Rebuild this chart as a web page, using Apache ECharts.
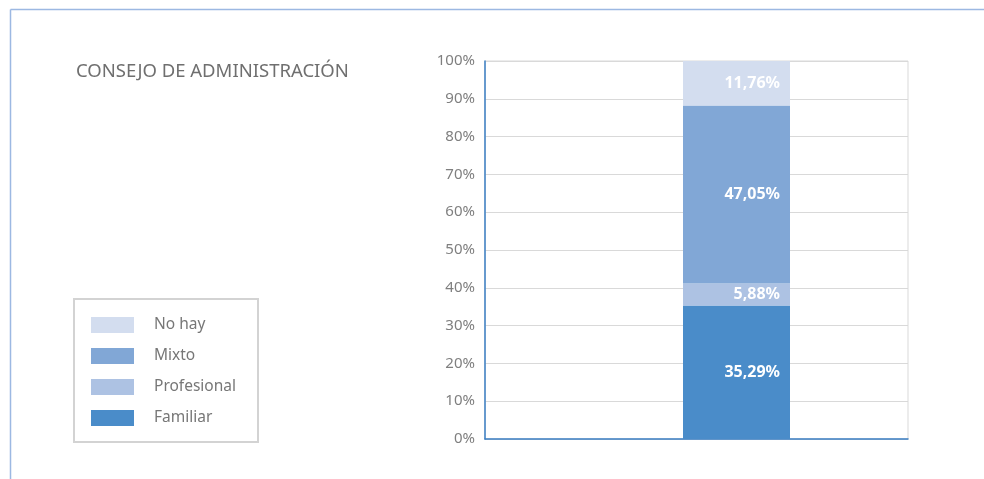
<!DOCTYPE html>
<html>
<head>
<meta charset="utf-8">
<script src="https://cdn.jsdelivr.net/npm/echarts@6/dist/echarts.min.js"></script>
<style>
  html, body { margin: 0; padding: 0; background: #fff; }
  #chart { width: 984px; height: 479px; }
</style>
</head>
<body>
<div id="chart"></div>
<script>
// Composición del consejo de administración (porcentaje de empresas)
const categories = ['Consejo'];
const familiar = [35.29];
const profesional = [5.88];
const mixto = [47.05];
const noHay = [11.76];
const legendOrder = ['No hay', 'Mixto', 'Profesional', 'Familiar'];
const yTicks = { min: 0, max: 100, interval: 10 };

const FONT = '"Noto Sans", "Open Sans", sans-serif';
const fmt = v => v.toFixed(2).replace('.', ',') + '%';

function stackSeries(name, data, color) {
  return {
    name, type: 'bar', stack: 'total', data,
    xAxisIndex: 1, yAxisIndex: 1,
    barWidth: 107,
    itemStyle: { color },
    label: {
      show: true, position: 'insideRight', distance: 10,
      formatter: p => fmt(p.value),
      color: '#ffffff', fontFamily: FONT, fontWeight: 'bold', fontSize: 16
    },
    emphasis: { disabled: true }
  };
}

const chart = echarts.init(document.getElementById('chart'), null, { renderer: 'canvas' });
chart.setOption({
  animation: false,
  backgroundColor: '#ffffff',
  title: {
    text: 'CONSEJO DE ADMINISTRACIÓN',
    left: 71, top: 57,
    textStyle: { color: '#6f6f6f', fontFamily: FONT, fontWeight: 'normal', fontSize: 18.5 }
  },
  legend: {
    orient: 'vertical',
    left: 74, top: 299,
    data: legendOrder,
    itemWidth: 43, itemHeight: 16, itemGap: 15,
    padding: [18, 22, 16, 17],
    borderColor: '#d3d3d3', borderWidth: 2,
    icon: 'rect',
    selectedMode: false,
    textStyle: { color: '#777777', fontFamily: FONT, fontSize: 15.5, padding: [0, 0, 0, 15] }
  },
  grid: [
    { left: 485, top: 61, width: 423, height: 378, show: true, borderColor: '#d9d9d9', borderWidth: 1 },
    { left: 565, top: 61, width: 343, height: 378 }
  ],
  xAxis: [
    {
      gridIndex: 0, type: 'category', data: categories,
      axisLine: { lineStyle: { color: '#3b7fc4', width: 1.5 } },
      axisTick: { show: false }, axisLabel: { show: false }
    },
    {
      gridIndex: 1, type: 'category', data: categories,
      axisLine: { show: false }, axisTick: { show: false }, axisLabel: { show: false }
    }
  ],
  yAxis: [
    {
      gridIndex: 0, type: 'value', min: yTicks.min, max: yTicks.max, interval: yTicks.interval,
      axisLine: { show: true, lineStyle: { color: '#3b7fc4', width: 1.5 } },
      axisTick: { show: false },
      axisLabel: { formatter: '{value}%', color: '#7f7f7f', fontFamily: FONT, fontSize: 15, margin: 10 },
      splitLine: { lineStyle: { color: '#d9d9d9', width: 1 } }
    },
    {
      gridIndex: 1, type: 'value', min: yTicks.min, max: yTicks.max,
      axisLine: { show: false }, axisTick: { show: false }, axisLabel: { show: false },
      splitLine: { show: false }
    }
  ],
  series: [
    stackSeries('Familiar', familiar, '#4a8cc9'),
    stackSeries('Profesional', profesional, '#adc2e3'),
    stackSeries('Mixto', mixto, '#81a7d6'),
    stackSeries('No hay', noHay, '#d3ddef')
  ],
  graphic: [
    { type: 'line', shape: { x1: 10.5, y1: 9.5, x2: 984, y2: 9.5 }, style: { stroke: '#9cb8e2', lineWidth: 1.5 }, silent: true },
    { type: 'line', shape: { x1: 10.5, y1: 9.5, x2: 10.5, y2: 479 }, style: { stroke: '#9cb8e2', lineWidth: 1.5 }, silent: true }
  ]
});
</script>
</body>
</html>
